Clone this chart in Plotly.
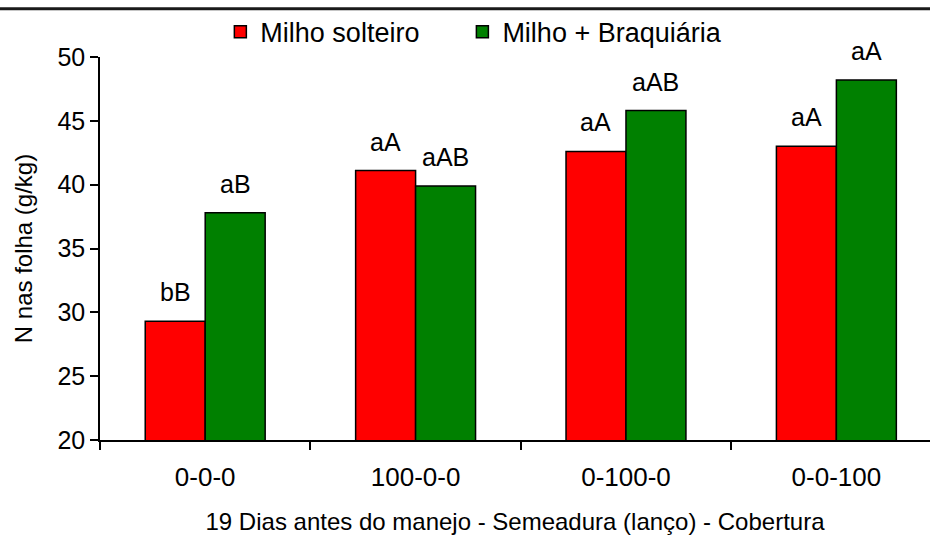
import plotly.graph_objects as go

categories = ["0-0-0", "100-0-0", "0-100-0", "0-0-100"]
milho_solteiro = [29.3, 41.1, 42.6, 43.0]
milho_braquiaria = [37.8, 39.9, 45.8, 48.2]
labels_solteiro = ["bB", "aA", "aA", "aA"]
labels_braquiaria = ["aB", "aAB", "aAB", "aA"]
y_ticks = [20, 25, 30, 35, 40, 45, 50]

FONT = "Arial, Liberation Sans, sans-serif"
FS = 24

fig = go.Figure()
fig.add_trace(go.Bar(x=categories, y=milho_solteiro, name="Milho solteiro", legend="legend",
                     marker=dict(color="#FF0000", line=dict(color="black", width=1.5))))
fig.add_trace(go.Bar(x=categories, y=milho_braquiaria, name="Milho + Braquiária", legend="legend2",
                     marker=dict(color="#008000", line=dict(color="black", width=1.5))))

annotations = []
for c, v, t in zip(categories, milho_solteiro, labels_solteiro):
    annotations.append(dict(x=c, y=v, text=t, showarrow=False, xshift=-30, yshift=29,
                            yanchor="middle", font=dict(size=25, color="black", family=FONT)))
for c, v, t in zip(categories, milho_braquiaria, labels_braquiaria):
    annotations.append(dict(x=c, y=v, text=t, showarrow=False, xshift=30, yshift=29,
                            yanchor="middle", font=dict(size=25, color="black", family=FONT)))

legend_common = dict(orientation="h", xanchor="left", y=1.065, yanchor="middle",
                     font=dict(size=27, family=FONT), bgcolor="rgba(0,0,0,0)",
                     itemwidth=30, tracegroupgap=0)

fig.update_layout(
    width=930, height=537,
    margin=dict(l=100, r=0, t=57, b=97, autoexpand=False),
    plot_bgcolor="white", paper_bgcolor="white",
    barmode="group", bargap=0.43, bargroupgap=0,
    font=dict(family=FONT, size=FS, color="black"),
    showlegend=True,
    legend=dict(x=0.145, **legend_common),
    legend2=dict(x=0.4366, **legend_common),
    annotations=annotations,
    xaxis=dict(type="category", range=[-0.5, 3.445], showline=True, linecolor="black",
               linewidth=1.5, ticks="outside", tickson="boundaries", ticklen=8,
               tickcolor="black", tickwidth=1.5, showgrid=False, zeroline=False,
               tickfont=dict(size=26, family=FONT), ticklabelstandoff=13,
               title=dict(text="19 Dias antes do manejo - Semeadura (lanço) - Cobertura",
                          font=dict(size=FS, family=FONT), standoff=22)),
    yaxis=dict(range=[20, 50], tickvals=y_ticks, showline=True, linecolor="black",
               linewidth=1.5, ticks="outside", ticklen=8, tickcolor="black", tickwidth=1.5,
               showgrid=False, zeroline=False, tickfont=dict(size=25, family=FONT),
               title=dict(text="N nas folha (g/kg)", font=dict(size=FS, family=FONT), standoff=18)),
    shapes=[dict(type="line", xref="paper", yref="paper", xsizemode="pixel", ysizemode="pixel",
                 xanchor=0, yanchor=1, x0=-100, x1=831, y0=48.2, y1=48.2,
                 line=dict(color="#1a1a1a", width=3))],
)

fig.write_html("out.html")
